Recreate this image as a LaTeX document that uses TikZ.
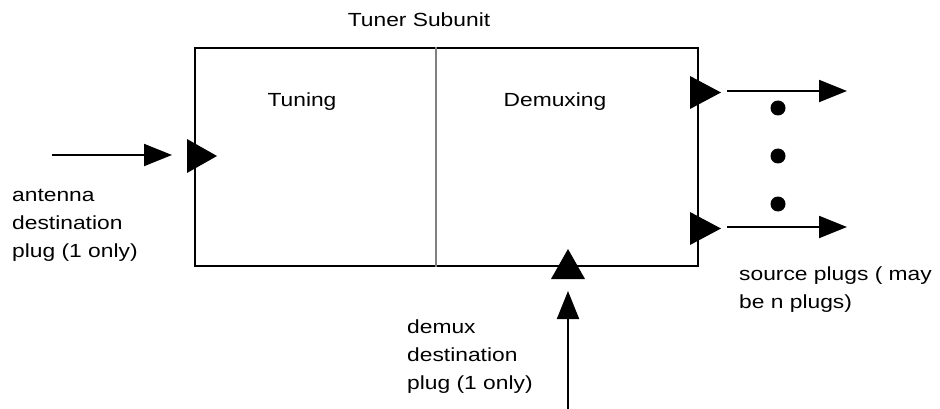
\documentclass[tikz,border=0pt]{standalone}
\usepackage{fontspec}
\setmainfont{Liberation Sans}[FakeStretch=1.2]
\usetikzlibrary{arrows.meta}
\begin{document}
\begin{tikzpicture}[x=1pt,y=-1pt,
  lbl/.style={font=\fontsize{19}{28}\selectfont, inner sep=0pt},
  blk/.style={lbl, align=left, anchor=base west},
  wire/.style={line width=2pt, -{Triangle[length=28pt,width=22pt]}},
  plugmark/.style={fill=black},
  dotmark/.style={fill=black}]
\useasboundingbox (0,0) rectangle (940,409);

% subunit frame and the split between its two stages
\node[draw, line width=2.4pt, minimum width=503pt, minimum height=218pt, inner sep=0pt] (unit) at (446.5,157) {};
\coordinate (divx) at (436,0);
\draw[draw=black!50, line width=2pt] (divx |- unit.north) -- (divx |- unit.south);

% titles
\node[lbl, anchor=base] (title) at (419,27) {Tuner Subunit};
\node[lbl, anchor=base] (tuning) at (302,107) {Tuning};
\node[lbl, anchor=base] (demuxing) at (555,107) {Demuxing};

% plug markers on the frame
\fill[plugmark] (187,139) -- (217,156) -- (187,173) -- cycle;
\fill[plugmark] (690,76) -- (721,92.5) -- (690,109) -- cycle;
\fill[plugmark] (690,212) -- (721,228.5) -- (690,245) -- cycle;
\fill[plugmark] (551,279) -- (568,249) -- (585,279) -- cycle;

% signal wires
\coordinate (antS) at (52,155);
\coordinate (antE) at (172,155);
\draw[wire] (antS) -- (antE);
\coordinate (srcAS) at (727,91);
\coordinate (srcAE) at (847,91);
\draw[wire] (srcAS) -- (srcAE);
\coordinate (srcBS) at (727,227);
\coordinate (srcBE) at (847,227);
\draw[wire] (srcBS) -- (srcBE);
\coordinate (demS) at (568,409);
\coordinate (demE) at (568,291);
\draw[wire] (demS) -- (demE);

% ellipsis between the source plugs
\fill[dotmark] (778,108) circle (7.5);
\fill[dotmark] (778,156) circle (7.5);
\fill[dotmark] (778,204) circle (7.5);

% plug captions (anchored on the baseline of their last line)
\node[blk] (antlbl) at (12,257) {antenna\\destination\\plug (1 only)};
\node[blk] (demlbl) at (407,389) {demux\\destination\\plug (1 only)};
\node[blk] (srclbl) at (739,308) {source plugs ( may\\be n plugs)};
\end{tikzpicture}
\end{document}
